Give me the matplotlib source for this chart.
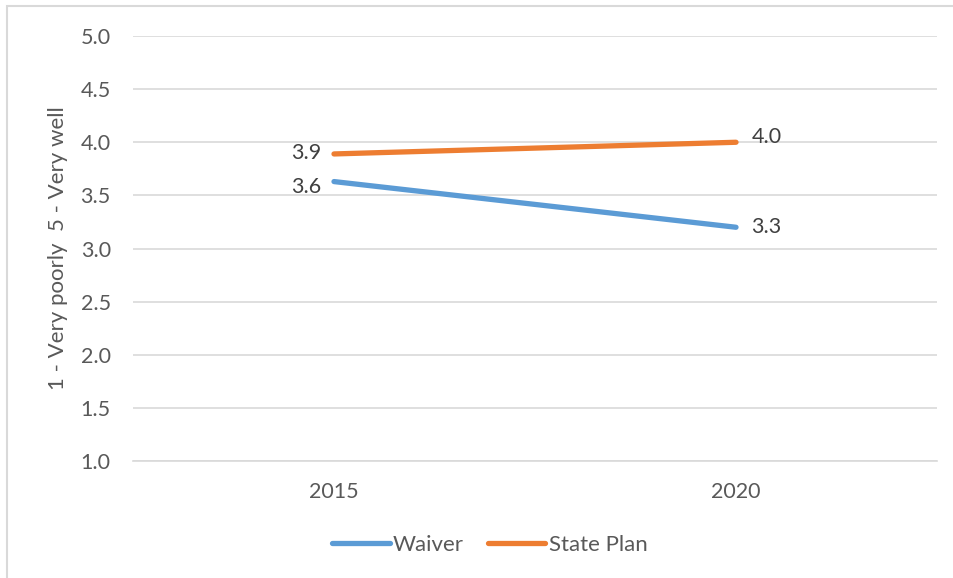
import matplotlib.pyplot as plt
from matplotlib.patches import Rectangle

# ---------- Data ----------
years = ["2015", "2020"]
waiver = [3.63, 3.20]
state_plan = [3.89, 4.00]
waiver_labels = ["3.6", "3.3"]
state_plan_labels = ["3.9", "4.0"]
y_ticks = [1.0, 1.5, 2.0, 2.5, 3.0, 3.5, 4.0, 4.5, 5.0]

BLUE = "#5B9BD5"
ORANGE = "#ED7D31"
TEXT = "#595959"
GRID = "#D9D9D9"

plt.rcParams["font.family"] = ["Lato", "DejaVu Sans"]

fig = plt.figure(figsize=(9.54, 5.78), dpi=100)
ax = fig.add_axes([0.1394, 0.2024, 0.8428, 0.7353])

x = list(range(len(years)))
ax.plot(x, waiver, color=BLUE, lw=3.8, solid_capstyle="round", label="Waiver")
ax.plot(x, state_plan, color=ORANGE, lw=3.8, solid_capstyle="round", label="State Plan")

# ---------- Data labels (left of first point, right of last) ----------
# small vertical nudges, like Excel does to keep labels apart
nudge = {("w", 0): -4, ("w", 1): 0, ("s", 0): 1, ("s", 1): 4}
for key, vals, labs in [("w", waiver, waiver_labels), ("s", state_plan, state_plan_labels)]:
    ax.annotate(labs[0], (x[0], vals[0]), xytext=(-9, nudge[(key, 0)]),
                textcoords="offset points", ha="right", va="center",
                fontsize=15.5, color="#404040")
    ax.annotate(labs[1], (x[1], vals[1]), xytext=(11, nudge[(key, 1)]),
                textcoords="offset points", ha="left", va="center",
                fontsize=15.5, color="#404040")

# ---------- Axes styling ----------
ax.set_xlim(-0.5, 1.5)
ax.set_ylim(1.0, 5.0)
ax.set_xticks(x)
ax.set_xticklabels(years)
ax.set_yticks(y_ticks)
ax.set_yticklabels([f"{v:.1f}" for v in y_ticks])
ax.tick_params(axis="both", length=0, labelsize=15.5, labelcolor=TEXT)
ax.tick_params(axis="y", pad=16)
ax.tick_params(axis="x", pad=15)
ax.grid(axis="y", color=GRID, lw=1.2)
ax.set_axisbelow(True)
for side in ["top", "right", "left"]:
    ax.spines[side].set_visible(False)
ax.spines["bottom"].set_color(GRID)
ax.spines["bottom"].set_linewidth(1.2)

ax.set_ylabel("1 - Very poorly  5 - Very well", fontsize=16, color=TEXT, labelpad=9)

fig.legend(handles=ax.get_lines(), loc="center", bbox_to_anchor=(490 / 954, 1 - 545 / 578),
           ncol=2, frameon=False, fontsize=16, labelcolor=TEXT, handlelength=2.57,
           handletextpad=0.15, columnspacing=1.1, borderaxespad=0, borderpad=0)

# outer chart border (only left/top edges visible in the crop)
fig.patches.append(Rectangle((7 / 954, -0.1), 1.2, 1.1 - 6 / 578,
                             transform=fig.transFigure, fill=False,
                             edgecolor="#D9D9D9", lw=1.5))

fig.savefig("out.png", dpi=100, facecolor="white")
